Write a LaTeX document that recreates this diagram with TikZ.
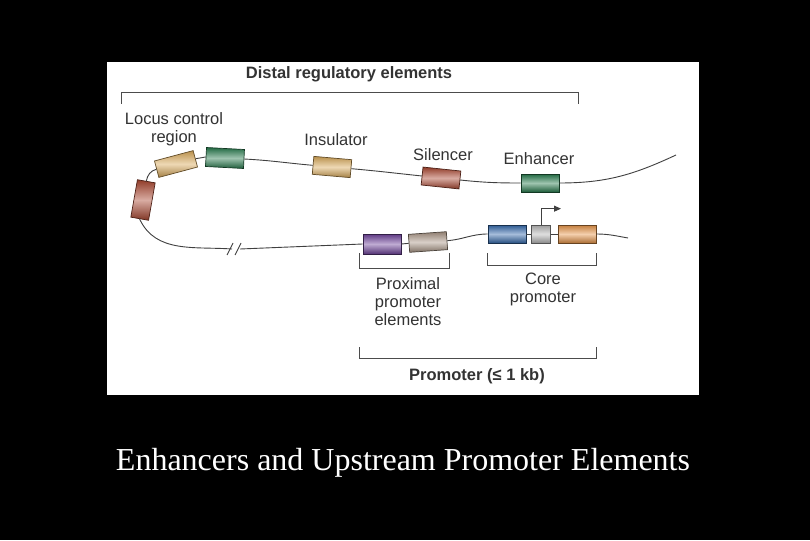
\documentclass[tikz,border=0pt]{standalone}
\usepackage{fontspec}
\setmainfont{Liberation Sans}
\newfontfamily\capfont{Liberation Serif}
\usetikzlibrary{arrows.meta}

\definecolor{tanc}{RGB}{218,170,90}
\definecolor{greenc}{RGB}{40,124,78}
\definecolor{redc}{RGB}{170,70,48}
\definecolor{purplec}{RGB}{112,68,156}
\definecolor{beigec}{RGB}{170,150,134}
\definecolor{bluec}{RGB}{54,106,172}
\definecolor{greyc}{RGB}{184,184,184}
\definecolor{orangec}{RGB}{230,148,72}

\tikzset{
  gene/.style={draw=#1!45!black, line width=0.7pt, inner sep=0pt,
    minimum width=38pt, minimum height=18pt,
    top color=#1!85!black, bottom color=#1!75!black, middle color=#1!45!white},
  dna/.style={line width=0.9pt, draw=black!75},
  brk/.style={line width=0.9pt, draw=black!70},
  lbl/.style={font=\fontsize{16.5}{18}\selectfont, text=black!80, align=center, inner sep=0pt}
}

\begin{document}
\begin{tikzpicture}[x=1pt,y=-1pt]
\useasboundingbox (0,0) rectangle (810,540);
\fill[black] (0,0) rectangle (810,540);
\fill[white] (107,62) rectangle (699,395);

% distal bracket
\node[lbl,font=\fontsize{16.5}{18}\selectfont\bfseries] (distal) at (349,74) {Distal regulatory elements};
\draw[brk] (121,104) -- (121,92) -- (578,92) -- (578,104);

% upper strand
\node[gene=redc, rotate=80] (lcrC) at (143,200) {};
\node[gene=tanc, rotate=15, minimum width=40pt, minimum height=17pt] (lcrA) at (176,164) {};
\node[gene=greenc, rotate=-3, minimum height=19pt] (lcrB) at (225,158) {};
\node[gene=tanc, rotate=-5] (ins) at (332,167) {};
\node[gene=redc, rotate=-6] (sil) at (441,178) {};
\node[gene=greenc] (enh) at (540,183) {};
\coordinate (topend) at (676,155);

\node[lbl] (lcrlbl) at (174,129) {Locus control\\region};
\node[lbl] (inslbl) at (336,140) {Insulator};
\node[lbl] (sillbl) at (443,155) {Silencer};
\node[lbl] (enhlbl) at (539,159) {Enhancer};

\draw[dna] (lcrC.east) to[out=80,in=195] (lcrA.west);
\draw[dna] (lcrA.east) -- (lcrB.west);
\draw[dna] (lcrB.east) to[out=-3,in=175] (ins.west);
\draw[dna] (ins.east) to[out=-5,in=174] (sil.west);
\draw[dna] (sil.east) to[out=-6,in=180] (enh.west);
\draw[dna] (enh.east) to[out=0,in=205] (topend);

% lower strand
\node[gene=purplec, minimum height=20pt] (prxA) at (382,244) {};
\node[gene=beigec, rotate=4] (prxB) at (428,242) {};
\node[gene=bluec] (core1) at (507,234) {};
\node[gene=greyc, minimum width=19pt] (core2) at (541,234) {};
\node[gene=orangec] (core3) at (577,234) {};
\coordinate (botend) at (628,238);
\coordinate (cutA) at (232,249);
\coordinate (cutB) at (240,249);

\draw[dna] (lcrC.west) to[out=-65,in=176] (cutA);
\draw[dna] (cutA) ++(-5,6) -- ++(6,-12);
\draw[dna] (cutB) ++(-5,6) -- ++(6,-12);
\draw[dna] (cutB) -- (prxA.west);
\draw[dna] (prxA.east) -- (prxB.west);
\draw[dna] (prxB.east) to[out=4,in=180] (core1.west);
\draw[dna] (core1.east) -- (core2.west);
\draw[dna] (core2.east) -- (core3.west);
\draw[dna] (core3.east) to[out=0,in=170] (botend);
\draw[dna,-{Triangle[length=7pt,width=6pt]}] (core2.north) -- ++(0,-16) -- ++(20,0);

% promoter brackets
\draw[brk] (359,253) -- (359,268) -- (449,268) -- (449,253);
\node[lbl] (prxlbl) at (408,302) {Proximal\\promoter\\elements};
\draw[brk] (487,253) -- (487,265) -- (596,265) -- (596,253);
\node[lbl] (corelbl) at (543,289) {Core\\promoter};
\draw[brk] (359,347) -- (359,358) -- (596,358) -- (596,347);
\node[lbl,font=\fontsize{16.5}{18}\selectfont\bfseries] (prom) at (477,376) {Promoter (≤ 1 kb)};

\node[text=white, font=\capfont\fontsize{32}{36}\selectfont, anchor=base, inner sep=0pt] (caption) at (403,470) {Enhancers and Upstream Promoter Elements};
\end{tikzpicture}
\end{document}
